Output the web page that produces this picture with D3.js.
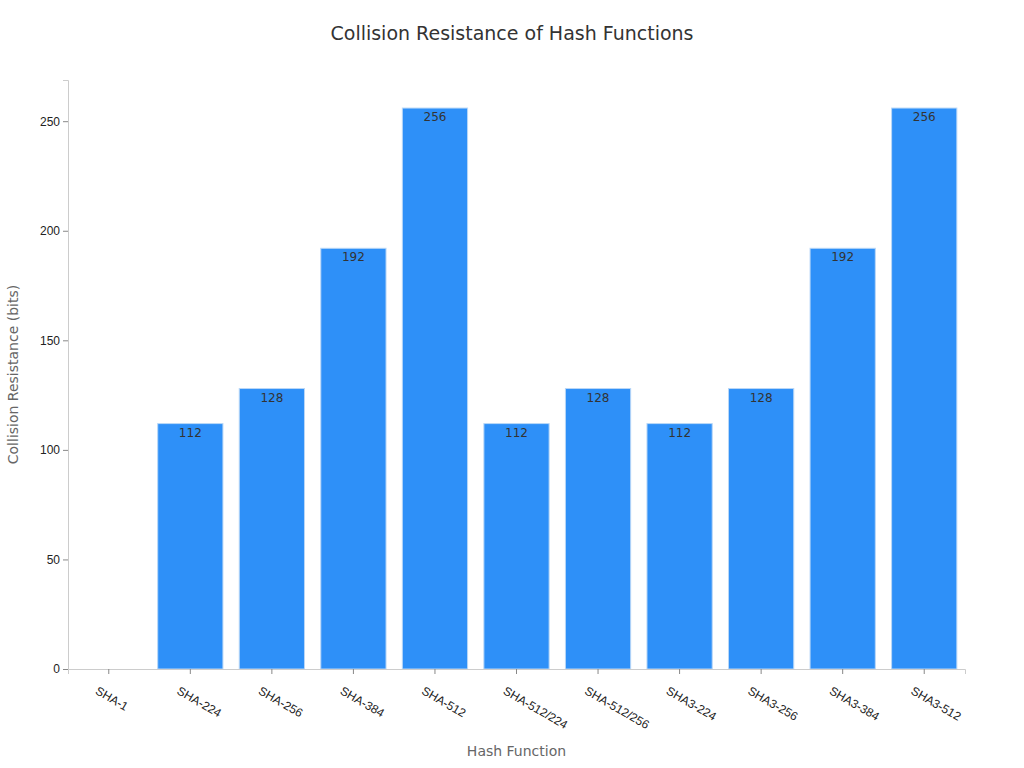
<!DOCTYPE html>
<html>
<head>
<meta charset="utf-8">
<script src="https://cdn.jsdelivr.net/npm/d3@7"></script>
<style>
  body { margin: 0; background: #fff; font-family: "DejaVu Sans", sans-serif; }
</style>
</head>
<body>
<svg id="chart" width="1024" height="768"></svg>
<script>
const categories = ["SHA-1", "SHA-224", "SHA-256", "SHA-384", "SHA-512", "SHA-512/224",
  "SHA-512/256", "SHA3-224", "SHA3-256", "SHA3-384", "SHA3-512"];
const values = [0, 112, 128, 192, 256, 112, 128, 112, 128, 192, 256];
const yTicks = [0, 50, 100, 150, 200, 250];

const svg = d3.select("#chart");
const mLeft = 68, mRight = 965, mTop = 80, mBottom = 669;
const rows = categories.map((c, i) => ({ name: c, value: values[i] }));

const x = d3.scaleBand().domain(categories).range([mLeft, mRight]).paddingInner(0.2).paddingOuter(0.1);
const y = d3.scaleLinear().domain([0, 268.8]).range([mBottom, mTop]);

svg.append("text").attr("x", 512).attr("y", 40).attr("text-anchor", "middle")
  .attr("font-size", 19).attr("fill", "#333").text("Collision Resistance of Hash Functions");

// bars
svg.append("g").selectAll("rect").data(rows).join("rect")
  .attr("x", d => x(d.name))
  .attr("y", d => y(d.value))
  .attr("width", x.bandwidth())
  .attr("height", d => mBottom - y(d.value))
  .attr("fill", "#2e90f8")
  .attr("stroke", d => d.value > 0 ? "#b9d7f7" : "none")
  .attr("stroke-width", 1);

svg.append("g").selectAll("text").data(rows.filter(d => d.value > 0)).join("text")
  .attr("x", d => x(d.name) + x.bandwidth() / 2)
  .attr("y", d => y(d.value) + 13)
  .attr("text-anchor", "middle").attr("font-size", 12).attr("fill", "#333")
  .text(d => d.value);

const xAxis = svg.append("g").attr("transform", `translate(0,${mBottom})`)
  .call(d3.axisBottom(x).tickSizeOuter(0).tickSize(5));
xAxis.select(".domain").attr("stroke", "#ccc");
xAxis.selectAll("line").attr("stroke", "#888");
xAxis.selectAll("text").attr("font-size", 12).attr("fill", "#222")
  .attr("text-anchor", "start").attr("transform", "translate(-6,10) rotate(30)");

const yAxis = svg.append("g").attr("transform", `translate(${mLeft},0)`)
  .call(d3.axisLeft(y).tickValues(yTicks).tickSizeOuter(0).tickSize(5));
yAxis.select(".domain").attr("stroke", "#ccc");
yAxis.selectAll("line").attr("stroke", "#888");
yAxis.selectAll("text").attr("font-size", 12).attr("fill", "#222");

svg.append("text").attr("x", (mLeft + mRight) / 2).attr("y", 756).attr("text-anchor", "middle")
  .attr("font-size", 14).attr("fill", "#666").text("Hash Function");
svg.append("text").attr("transform", `translate(18,${(mTop + mBottom) / 2}) rotate(-90)`)
  .attr("text-anchor", "middle").attr("font-size", 14).attr("fill", "#666")
  .text("Collision Resistance (bits)");
</script>
</body>
</html>
